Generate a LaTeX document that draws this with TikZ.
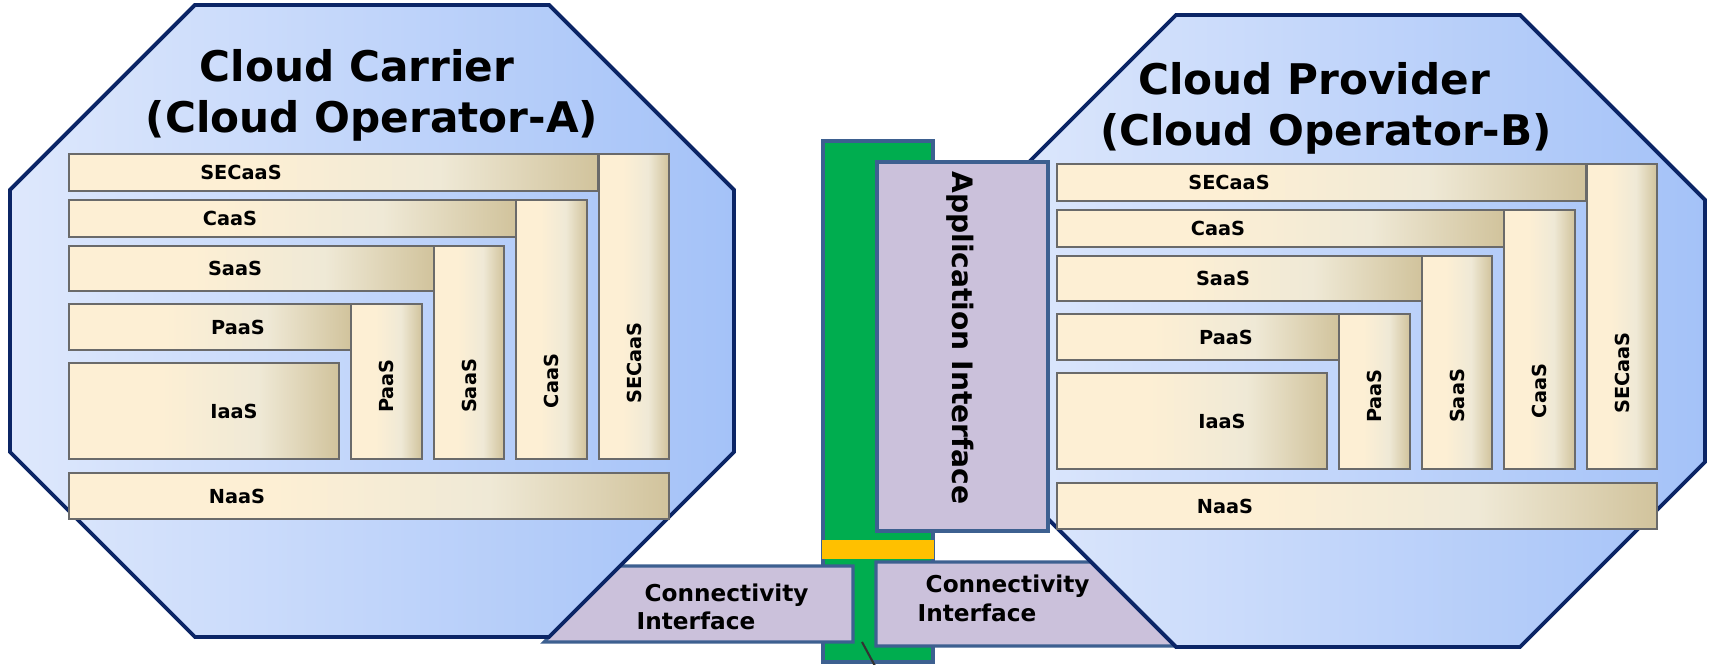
\documentclass[tikz,border=0pt]{standalone}
\usepackage{fontspec}
\setmainfont{DejaVu Sans}
\definecolor{navyb}{HTML}{0B2566}
\definecolor{octL}{HTML}{DEE8FC}
\definecolor{octR}{HTML}{A4C2F8}
\definecolor{bxA}{HTML}{FDEFD4}
\definecolor{bxB}{HTML}{EFE9D6}
\definecolor{bxC}{HTML}{D1C39C}
\definecolor{bxline}{HTML}{6A6A6A}
\definecolor{lav}{HTML}{CBC1DB}
\definecolor{steel}{HTML}{3D6090}
\definecolor{grn}{HTML}{00AD4F}
\definecolor{ylw}{HTML}{FFC000}
\pgfdeclarehorizontalshading{beige}{100bp}{color(0bp)=(bxA); color(25bp)=(bxA); color(42bp)=(bxA); color(60bp)=(bxB); color(75bp)=(bxC); color(100bp)=(bxC)}
\tikzset{
 octa/.style={draw=navyb, line width=1.1pt, line join=miter, left color=octL, right color=octR},
 svc/.style={draw=bxline, line width=0.45pt, shading=beige},
 lbl/.style={font=\fontsize{5.5}{6}\selectfont\bfseries, inner sep=0pt},
 vlbl/.style={lbl, rotate=90},
 ttl/.style={font=\fontsize{12}{14}\selectfont\bfseries, inner sep=0pt, anchor=base},
 iface/.style={draw=steel, line width=0.9pt, fill=lav, line join=miter},
 clbl/.style={font=\fontsize{6.6}{8}\selectfont\bfseries, inner sep=0pt, anchor=base west},
 bar/.style={draw=steel, line width=0.9pt, fill=grn},
}
\newcommand\opstack[1]{%
 \path[svc] (69,154) rectangle (598,191);
 \path[svc] (599,154) rectangle (669,459);
 \path[svc] (69,200) rectangle (516,237);
 \path[svc] (516,200) rectangle (587,459);
 \path[svc] (69,246) rectangle (434,291);
 \path[svc] (434,246) rectangle (504,459);
 \path[svc] (69,304) rectangle (351,350);
 \path[svc] (351,304) rectangle (422,459);
 \path[svc] (69,363) rectangle (339,459);
 \path[svc] (69,473) rectangle (669,519);
 \node[lbl] (#1-secH) at (241,172.5) {SECaaS};
 \node[lbl] (#1-caaH) at (230,218.5) {CaaS};
 \node[lbl] (#1-saaH) at (235,268.5) {SaaS};
 \node[lbl] (#1-paaH) at (238,327) {PaaS};
 \node[lbl] (#1-iaa) at (234,411) {IaaS};
 \node[lbl] (#1-naa) at (237,496) {NaaS};
 \node[vlbl] (#1-paaV) at (386.5,386) {PaaS};
 \node[vlbl] (#1-saaV) at (469,386) {SaaS};
 \node[vlbl] (#1-caaV) at (551.5,381) {CaaS};
 \node[vlbl] (#1-secV) at (634,363) {SECaaS};
}
\begin{document}
\begin{tikzpicture}[x=0.01cm,y=-0.01cm]
\useasboundingbox (0,0) rectangle (1709,665);
% central bar
\path[bar] (823,141) rectangle (933,662);
\path[fill=ylw] (822,540) rectangle (934,559);
\coordinate (lnA) at (862,642);
\coordinate (lnB) at (875,666);
\draw[black!80, line width=0.6pt] (lnA) -- (lnB);
% connectivity interfaces
\path[iface] (620,566) -- (853,566) -- (853,642) -- (544,642) -- cycle;
\path[iface] (876,562) -- (1091,562) -- (1175,646) -- (876,646) -- cycle;
% left operator
\path[octa] (195,5) -- (549,5) -- (734,190) -- (734,452) -- (549,637) -- (195,637) -- (10,452) -- (10,190) -- cycle;
\opstack{A}
% right operator
\path[octa] (1176,15) -- (1520,15) -- (1705,200) -- (1705,462) -- (1520,647) -- (1176,647) -- (991,462) -- (991,200) -- cycle;
\begin{scope}[shift={(988,10)}]
\opstack{B}
\end{scope}
% application interface
\path[iface] (877,162) rectangle (1048,531);
\node[font=\fontsize{8}{9}\selectfont\bfseries, rotate=-90, inner sep=0pt] (appif) at (960,338) {Application Interface};
% titles
\node[ttl] (t1a) at (357,82) {Cloud Carrier};
\node[ttl] (t1b) at (372,133) {(Cloud Operator-A)};
\node[ttl] (t2a) at (1314,95) {Cloud Provider};
\node[ttl] (t2b) at (1326,146) {(Cloud Operator-B)};
% connectivity labels
\node[clbl] (c1a) at (644,602) {Connectivity};
\node[clbl] (c1b) at (636,630) {Interface};
\node[clbl] (c2a) at (925,593) {Connectivity};
\node[clbl] (c2b) at (917,622) {Interface};
\end{tikzpicture}
\end{document}
